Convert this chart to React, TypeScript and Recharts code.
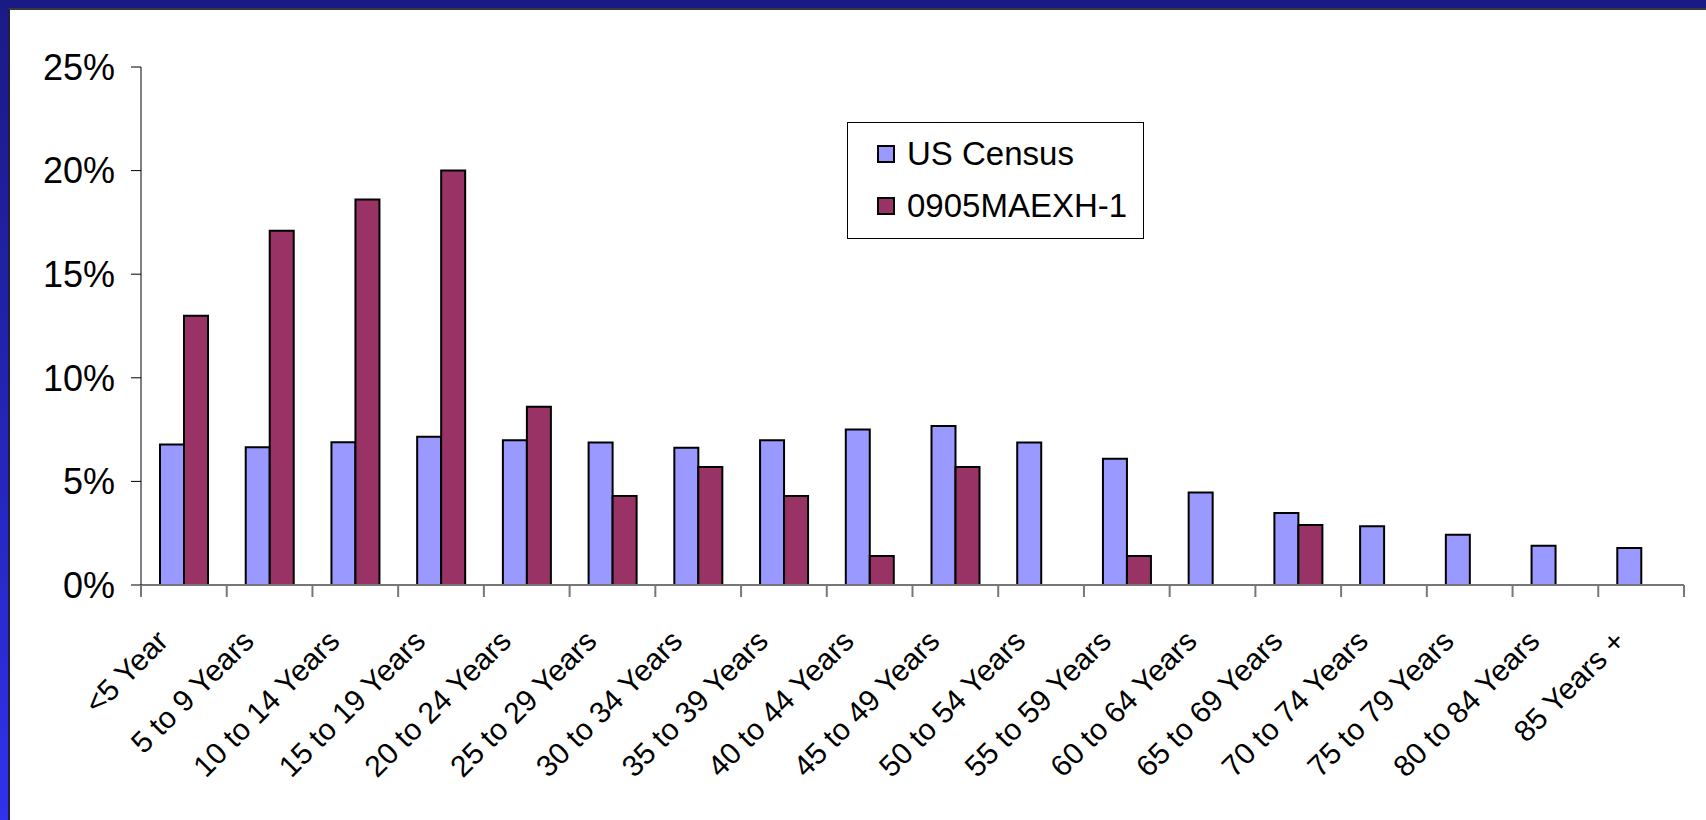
import { BarChart, Bar, XAxis, YAxis } from 'recharts';

// age bands on the x axis
const ageBands = [
  '<5 Year',
  '5 to 9 Years',
  '10 to 14 Years',
  '15 to 19 Years',
  '20 to 24 Years',
  '25 to 29 Years',
  '30 to 34 Years',
  '35 to 39 Years',
  '40 to 44 Years',
  '45 to 49 Years',
  '50 to 54 Years',
  '55 to 59 Years',
  '60 to 64 Years',
  '65 to 69 Years',
  '70 to 74 Years',
  '75 to 79 Years',
  '80 to 84 Years',
  '85 Years +',
];

// share of population per band, in percent
const usCensus = [
  6.78, 6.65, 6.89, 7.15, 6.99, 6.88, 6.62, 6.99, 7.51, 7.67, 6.88, 6.09, 4.46, 3.47, 2.84, 2.42, 1.89, 1.79,
];
const sample = [
  13.0, 17.1, 18.6, 20.0, 8.6, 4.3, 5.7, 4.3, 1.4, 5.7, null, 1.4, null, 2.9, null, null, null, null,
];

const percentTicks = [0, 5, 10, 15, 20, 25];

const seriesNames = ['US Census', '0905MAEXH-1'];
const seriesColors = ['#9999FF', '#993366'];

const chartData = ageBands.map((band, i) => ({
  band,
  census: usCensus[i],
  sample: sample[i],
}));

const FONT = '"Liberation Sans", Arial, sans-serif';

// label rotated 45deg plus tick marks on the band edges (not the centres)
function AgeTick({ x, y, payload, index, visibleTicksCount }: any) {
  const half = payload.offset || 0;
  const tx = x - 14;
  const ty = y + 58;
  const isLast = index === visibleTicksCount - 1;
  return (
    <g>
      <line x1={x - half} x2={x - half} y1={y} y2={y + 12} stroke="#777" strokeWidth={2} />
      {isLast && <line x1={x + half} x2={x + half} y1={y} y2={y + 12} stroke="#777" strokeWidth={2} />}
      <text
        x={tx}
        y={ty}
        transform={`rotate(-45 ${tx} ${ty})`}
        textAnchor="end"
        fontFamily={FONT}
        fontSize={30}
        fill="#000"
      >
        {payload.value}
      </text>
    </g>
  );
}

function LegendBox() {
  return (
    <div
      style={{
        position: 'absolute',
        left: 847,
        top: 122,
        width: 297,
        height: 117,
        border: '1px solid #000',
        background: '#fff',
        fontFamily: FONT,
        fontSize: 33,
        color: '#000',
        boxSizing: 'border-box',
        paddingLeft: 29,
        paddingTop: 5,
      }}
    >
      {seriesNames.map((name, i) => (
        <div key={name} style={{ display: 'flex', alignItems: 'center', height: 52 }}>
          <span
            style={{
              display: 'inline-block',
              width: 14,
              height: 14,
              background: seriesColors[i],
              border: '2px solid #000',
              marginRight: 12,
            }}
          />
          <span>{name}</span>
        </div>
      ))}
    </div>
  );
}

export default function App() {
  return (
    <div
      style={{
        position: 'fixed',
        left: 0,
        top: 0,
        width: 1706,
        height: 820,
        background: 'linear-gradient(to bottom, #1a1a86 0%, #2424b4 50%, #3131ee 100%)',
        overflow: 'hidden',
      }}
    >
      <div
        style={{
          position: 'absolute',
          left: 8,
          top: 8,
          right: 0,
          bottom: 0,
          background: '#fff',
          borderLeft: '2px solid #20203a',
          borderTop: '2px solid #3a3a3a',
        }}
      />
      <div style={{ position: 'absolute', left: 0, top: 0 }}>
        <BarChart
          width={1706}
          height={820}
          data={chartData}
          margin={{ top: 67, right: 22, bottom: 0, left: 0 }}
          barSize={24}
          barGap={0}
        >
          <XAxis
            dataKey="band"
            interval={0}
            height={235}
            tickSize={0}
            tickMargin={0}
            tickLine={false}
            tick={<AgeTick />}
            stroke="#777"
            strokeWidth={2}
          />
          <YAxis
            width={141}
            domain={[0, 25]}
            ticks={percentTicks}
            tickFormatter={(v: number) => `${v}%`}
            tickSize={10}
            tickMargin={16}
            stroke="#000"
            tick={{ fill: '#000', fontSize: 36, fontFamily: FONT }}
          />
          <Bar
            dataKey="census"
            name={seriesNames[0]}
            fill={seriesColors[0]}
            stroke="#000"
            strokeWidth={2}
            isAnimationActive={false}
          />
          <Bar
            dataKey="sample"
            name={seriesNames[1]}
            fill={seriesColors[1]}
            stroke="#000"
            strokeWidth={2}
            isAnimationActive={false}
          />
        </BarChart>
      </div>
      <LegendBox />
    </div>
  );
}
